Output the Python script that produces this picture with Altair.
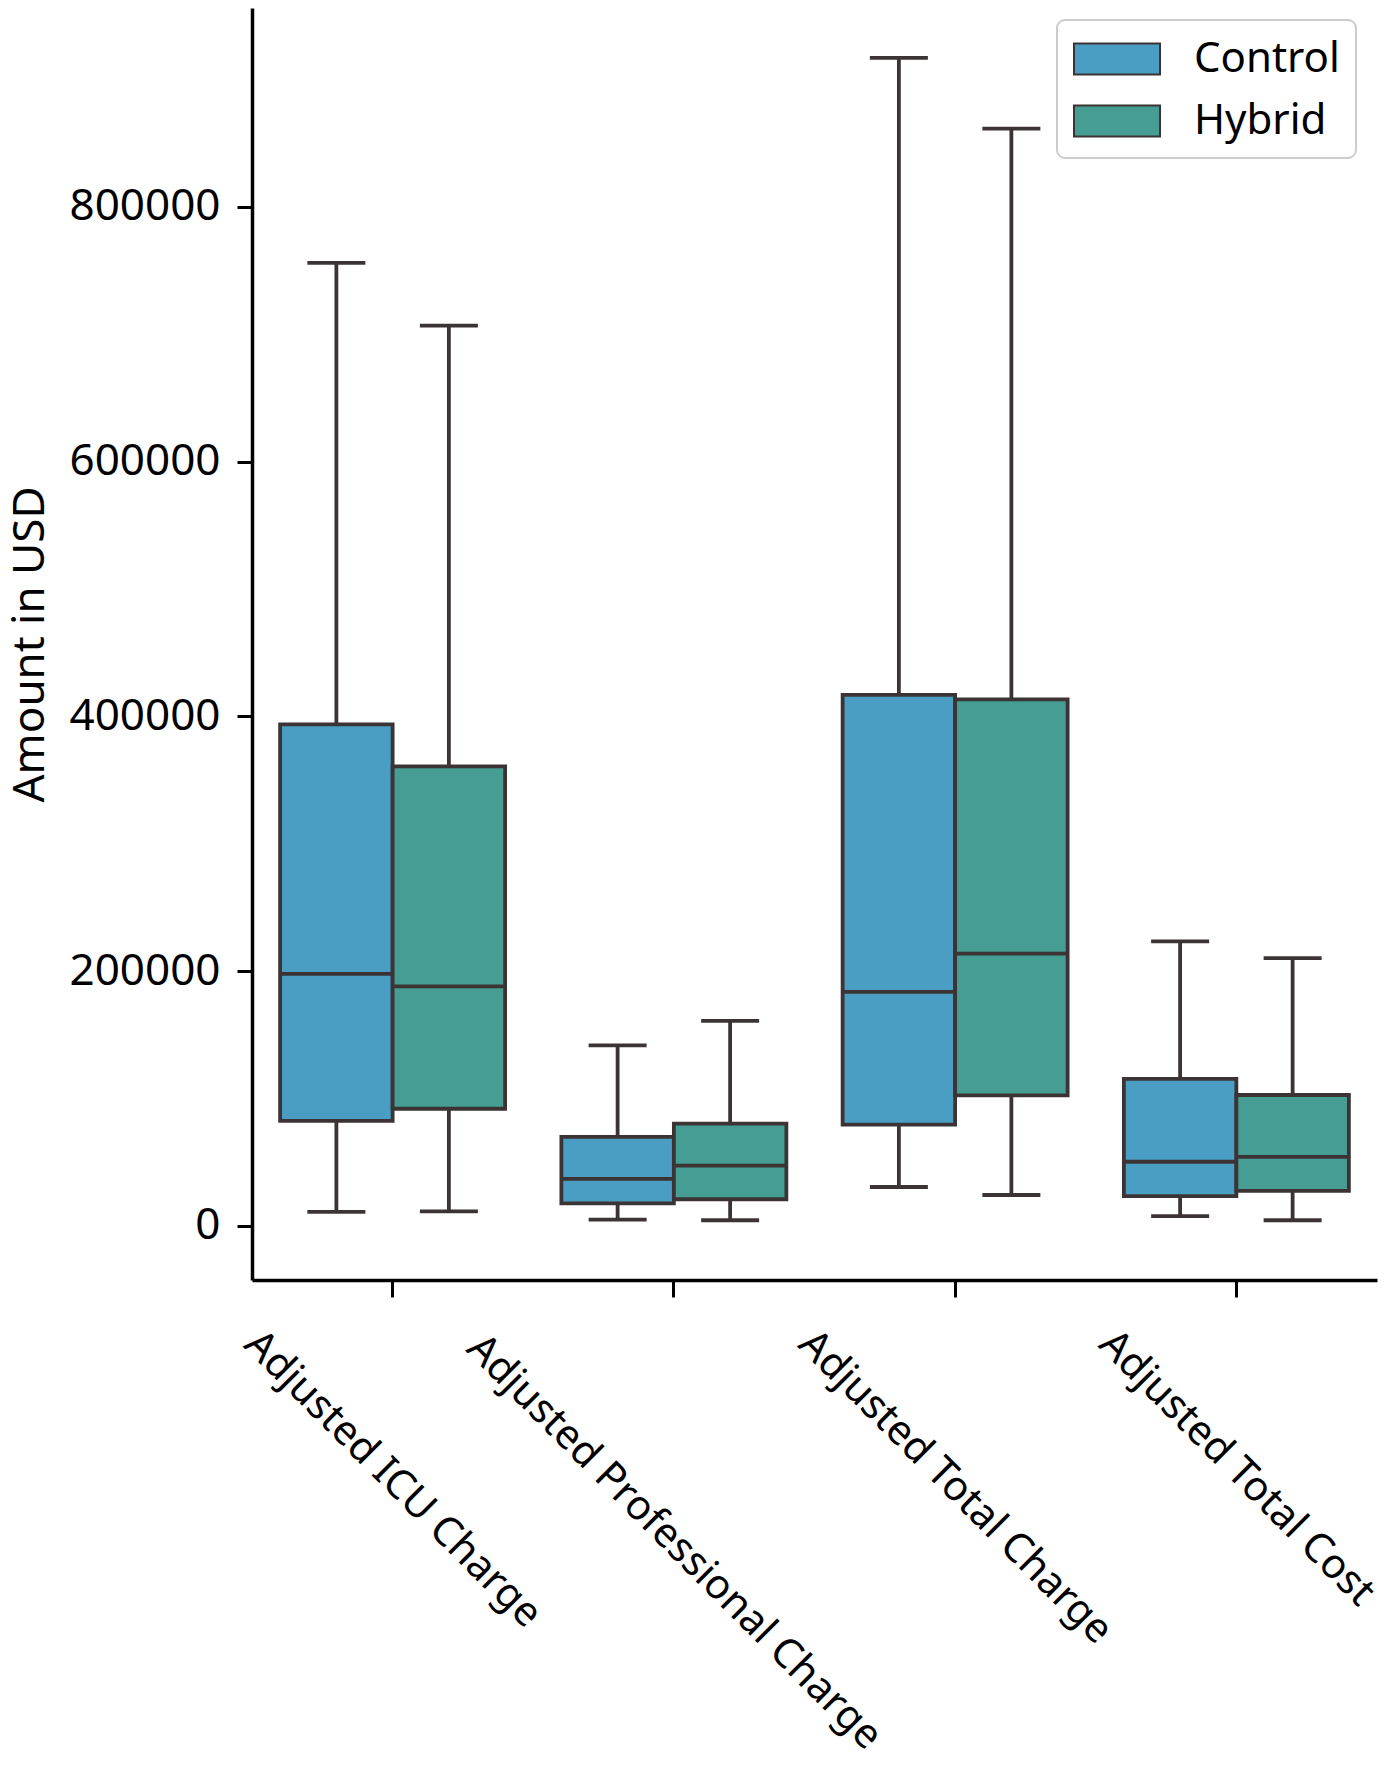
import altair as alt
import pandas as pd

# ---- data ----
categories = [
    "Adjusted ICU Charge",
    "Adjusted Professional Charge",
    "Adjusted Total Charge",
    "Adjusted Total Cost",
]
groups = ["Control", "Hybrid"]

control_low = [11000, 5000, 30600, 7800]
control_q1 = [82500, 17700, 79500, 23400]
control_median = [197900, 36900, 183800, 50400]
control_q3 = [393700, 69900, 416800, 115400]
control_high = [756000, 141800, 916900, 223400]

hybrid_low = [11400, 4500, 24300, 4500]
hybrid_q1 = [92000, 21000, 102500, 27600]
hybrid_median = [188000, 47400, 213800, 54300]
hybrid_q3 = [360700, 80400, 413300, 102800]
hybrid_high = [706700, 161000, 861300, 210200]

y_ticks = [0, 200000, 400000, 600000, 800000]

# ---- build table ----
rows = []
series = {
    "Control": (control_low, control_q1, control_median, control_q3, control_high),
    "Hybrid": (hybrid_low, hybrid_q1, hybrid_median, hybrid_q3, hybrid_high),
}
for g in groups:
    lo, q1, md, q3, hi = series[g]
    for i, c in enumerate(categories):
        rows.append({"category": c, "group": g, "low": lo[i], "q1": q1[i],
                     "median": md[i], "q3": q3[i], "high": hi[i]})
df = pd.DataFrame(rows)

EDGE = "#3c3434"
COLORS = ["#4a9ec4", "#469d93"]
FONT = "Noto Sans"
LW = 3.8

# per-label padding so rotated labels sit centred under their ticks
label_pad = {categories[0]: 182, categories[1]: 245, categories[2]: 190, categories[3]: 171}
pad_cond = [{"test": f"datum.value === '{k}'", "value": v} for k, v in label_pad.items()]

x_enc = alt.X(
    "category:N",
    sort=categories,
    scale=alt.Scale(paddingInner=0, paddingOuter=0),
    axis=alt.Axis(
        title=None,
        labelAngle=45,
        labelAlign="center",
        labelBaseline="middle",
        labelFontSize=41,
        labelFont=FONT,
        labelColor="black",
        labelLimit=0,
        labelOverlap=False,
        labelPadding={"condition": pad_cond, "value": 182},
        tickSize=17,
        tickWidth=3,
        tickColor="black",
        domainColor="black",
        domainWidth=3.5,
        grid=False,
    ),
)
xoff = alt.XOffset("group:N", sort=groups, scale=alt.Scale(paddingInner=0, paddingOuter=0.25))
y_scale = alt.Scale(domain=[-42400, 956000], nice=False, zero=False)

base = alt.Chart(df).encode(x=x_enc, xOffset=xoff)

whisker = base.mark_rule(color=EDGE, strokeWidth=LW).encode(
    y=alt.Y("low:Q", scale=y_scale,
            axis=alt.Axis(
                title="Amount in USD",
                values=y_ticks,
                format="d",
                grid=False,
                labelFontSize=44,
                labelFont=FONT,
                labelColor="black",
                labelPadding=17,
                tickSize=15,
                tickWidth=3,
                tickColor="black",
                domainColor="black",
                domainWidth=3.5,
                titleFontSize=44,
                titleFont=FONT,
                titleFontWeight="normal",
                titleColor="black",
                titlePadding=16,
            )),
    y2="high:Q",
)

# legend symbol: a wide rectangle (86 x 31 px) drawn from the left edge of a 44px slot
box = base.mark_bar(stroke=EDGE, strokeWidth=LW).encode(
    y=alt.Y("q1:Q", scale=y_scale),
    y2="q3:Q",
    color=alt.Color(
        "group:N",
        scale=alt.Scale(domain=groups, range=COLORS),
        legend=alt.Legend(
            title=None,
            orient="none",
            legendX=805,
            legendY=12,
            symbolType="M-1,-0.705L2.91,-0.705L2.91,0.705L-1,0.705Z",
            symbolSize=1936,
            symbolStrokeColor=EDGE,
            symbolStrokeWidth=2,
            symbolOpacity=1,
            labelFontSize=42,
            labelFont=FONT,
            labelColor="black",
            labelOffset=75,
            rowPadding=18,
            padding=16,
            strokeColor="#cccccc",
            fillColor="white",
            cornerRadius=8,
        ),
    ),
)

median = base.mark_tick(color=EDGE, thickness=LW, size=113, opacity=1).encode(
    y=alt.Y("median:Q", scale=y_scale))
cap_low = base.mark_tick(color=EDGE, thickness=LW, size=58, opacity=1).encode(
    y=alt.Y("low:Q", scale=y_scale))
cap_high = base.mark_tick(color=EDGE, thickness=LW, size=58, opacity=1).encode(
    y=alt.Y("high:Q", scale=y_scale))

chart = alt.layer(whisker, box, median, cap_low, cap_high).properties(
    width=1125,
    height=1272,
    padding={"left": 0, "top": 0, "right": 0, "bottom": 0},
).configure_view(stroke=None).configure_legend(strokeWidth=2)

chart.save("out.html", embed_options={"renderer": "svg", "actions": False})
